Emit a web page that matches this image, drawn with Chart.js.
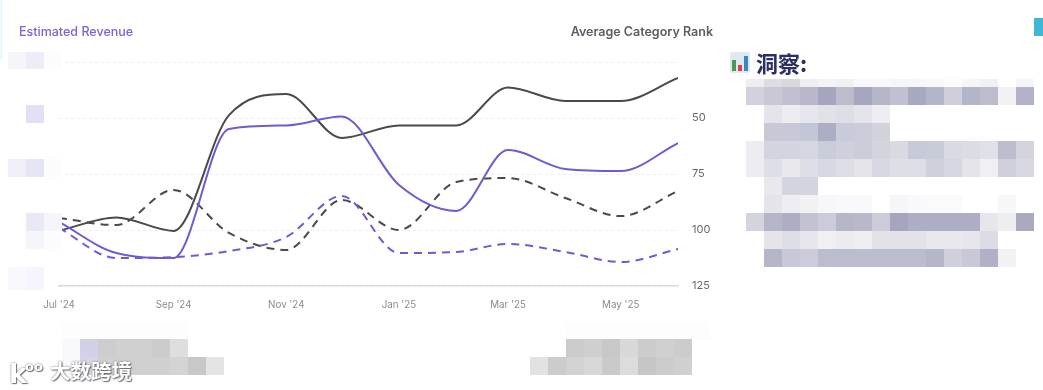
<!DOCTYPE html>
<html>
<head>
<meta charset="utf-8">
<title>Estimated Revenue / Average Category Rank</title>
<script src="https://cdn.jsdelivr.net/npm/chart.js@4"></script>
<style>
  html, body { margin: 0; padding: 0; background: #fff; }
  body { width: 1043px; height: 390px; overflow: hidden; position: relative; font-family: Inter, "Noto Sans CJK SC", sans-serif; }
  #chartBox { position: absolute; left: 0; top: 0; width: 740px; height: 320px; }
  .abs { position: absolute; }
  .axisTitle { position: absolute; top: 24px; font-size: 12.5px; font-weight: 600; line-height: 16px; white-space: nowrap; }
  #leftTitle { left: 19px; color: #7068d8; font-weight: 500; }
  #rightTitle { right: 330px; color: #5c5c66; }
  #insight { position: absolute; left: 756px; top: 46px; font: 700 22px/32px "Noto Sans CJK SC", sans-serif; color: #2a2d66; }
  #mark { position: absolute; left: 50px; top: 355px; z-index: 5; font: 700 20.5px/30px "Noto Sans CJK SC", sans-serif; color: #fff;
          text-shadow: 0 0 2px #666, 1px 1px 1px #777; white-space: nowrap; }
  #logo { position: absolute; left: 9px; top: 350px; z-index: 5; font: 700 27px/34px "DejaVu Sans", sans-serif; color: #fff;
          text-shadow: 0 0 2px #666, 1px 1px 1px #777; white-space: nowrap; }
  #logo span { font-size: 13px; vertical-align: 12px; margin-left: -2px; }
</style>
</head>
<body>
<div id="chartBox"><canvas id="chart"></canvas></div>
<div class="axisTitle" id="leftTitle">Estimated Revenue</div>
<div class="axisTitle" id="rightTitle">Average Category Rank</div>
<div id="insight">洞察:</div>
<div id="logo">k<span>oo</span></div>
<div id="mark">大数跨境</div>

<script>
// months on the time axis
const months = ["2024-07-01","2024-08-01","2024-09-01","2024-10-01","2024-11-01","2024-12-01",
                "2025-01-01","2025-02-01","2025-03-01","2025-04-01","2025-05-01","2025-06-01"];
const tickMonths = ["2024-07-01","2024-09-01","2024-11-01","2025-01-01","2025-03-01","2025-05-01"];
const tickLabels = ["Jul '24","Sep '24","Nov '24","Jan '25","Mar '25","May '25"];

// left axis numbers are blurred in the source, so revenue is in relative units
const revenueA = [28.6, 14.7, 12.5, 70.1, 71.7, 75.7, 45.1, 33.5, 60.7, 52.2, 51.3, 63.8];
const revenueB = [25.9, 12.5, 12.9, 15.6, 21.9, 40.2, 14.7, 15.2, 18.8, 15.2, 10.7, 16.5];
const rankA = [100.4, 94.4, 100.4, 48.7, 39.3, 58.9, 53.3, 53.3, 36.4, 42.4, 42.4, 32.1];
const rankB = [94.6, 97.8, 82.1, 101.3, 108.9, 86.6, 100, 78.6, 76.8, 85.7, 93.8, 82.6];

const purple = "#6a5dd3";
const dark = "#4a4a4d";

const toPoints = vals => vals.map((v, i) => ({ x: Date.parse(months[i]), y: v }));
const makeLine = (label, vals, color, axis, dash) => ({
  label: label,
  data: toPoints(vals),
  yAxisID: axis,
  borderColor: color,
  borderWidth: 2,
  borderDash: dash,
  cubicInterpolationMode: "monotone",
  pointRadius: 0,
  fill: false
});

new Chart(document.getElementById("chart"), {
  type: "line",
  data: {
    datasets: [
      makeLine("Revenue A", revenueA, purple, "revenue", []),
      makeLine("Revenue B", revenueB, purple, "revenue", [8, 6]),
      makeLine("Rank A", rankA, dark, "rank", []),
      makeLine("Rank B", rankB, dark, "rank", [8, 6])
    ]
  },
  options: {
    responsive: true,
    maintainAspectRatio: false,
    animation: false,
    layout: { padding: { top: 62, left: 0, right: 0, bottom: 0 } },
    plugins: { legend: { display: false }, tooltip: { enabled: false } },
    scales: {
      x: {
        type: "linear",
        min: Date.parse(months[0]),
        max: Date.parse(months[months.length - 1]),
        afterBuildTicks: axis => { axis.ticks = tickMonths.map(m => ({ value: Date.parse(m) })); },
        afterFit: axis => { axis.height = 34; },
        grid: { display: false, drawTicks: false },
        border: { display: true, color: "#dcdcdc", width: 1.5 },
        ticks: {
          autoSkip: false,
          maxRotation: 0,
          padding: 13,
          color: "#8c8c8c",
          font: { family: "Inter", size: 9.8 },
          callback: value => tickLabels[tickMonths.findIndex(m => Date.parse(m) === value)]
        }
      },
      revenue: {
        position: "left",
        min: 0,
        max: 100,
        afterFit: axis => { axis.width = 59; },
        grid: { display: false },
        border: { display: false },
        ticks: { display: false, stepSize: 25 }
      },
      rank: {
        position: "right",
        reverse: true,
        min: 25,
        max: 125,
        afterFit: axis => { axis.width = 62; },
        grid: { color: "#eeeeee", drawTicks: false, lineWidth: 1 },
        border: { display: false, dash: [3, 3] },
        ticks: {
          stepSize: 25,
          padding: 14,
          color: "#666666",
          font: { family: "Inter", size: 11 },
          callback: value => value === 25 ? "" : value
        }
      }
    }
  }
});

// blurred blocks from the source picture: [left, top, height, colours...]
const CELL = 18;
const blurRows = [
  // insight panel
  [746, 79, 8, "eeeef1","dddde3","d8d8dd","eeeef1","f4f4f6","f0f0f3","f8f8fa","f8f8fa","f5f5f7","f6f6f8","f8f8fa","fcfcfd","f6f6f8","f1f1f4","ffffff","f6f6f8"],
  [746, 87, 18, "d2d2de","c9c9d6","c0c0d2","b8b8ca","a5a5bf","bcbccd","a6a6bf","b6b6c9","c0c0d0","a6a9c0","b5b5c9","cfcfdc","b5b5ca","bcbccd","f2f2f5","b2b2c8"],
  [764, 105, 18, "e4e4ea","ededf1","e6e6ec","e1e1e8","dedee6","e4e4ea","eeeef2"],
  [764, 123, 18, "c8c8d6","c8c8d6","c2c6d6","adadc5","c8ccd9","ccccd9","d2d2dc"],
  [746, 141, 18, "ededf1","d4d4df","d4d4df","d6d6e0","c8ccdb","d0d0dc","ccccd9","d4d4df","d9d9e2","c6cad9","c8ccd9","dadae3","dcdce5","e0e0e8","bcbccf","d4d4df"],
  [746, 159, 18, "ededf1","dedee6","e8e8ed","dedee6","d6d8e2","dedee6","e4e4ea","d8d8e2","dedee6","dedee6","d0d0dc","d6d6e0","e4e4ea","f0f0f3","d0d0dc","d8d8e2"],
  [764, 177, 18, "e8e8ed","d4d4df","d4d4df"],
  [764, 195, 18, "e4e4ea","eeeef2","f2f2f5","f7f7f9","f9f9fb","f9f9fb","ffffff","f6f6f8","f9f9fb","fafafb","fafafb","ffffff","ffffff","f7f7f9"],
  [746, 213, 18, "d4d4df","b6b6c9","adadc5","c2c2d2","cbcbd9","b6b6c9","b8b8ca","cbcbd9","a5a5bf","adadc5","adadc3","adadc3","adadc3","e6e6ec","eeeef2","a9a9c0"],
  [764, 231, 18, "e4e4ea","dedee6","e6e6ec","f0f0f3","ececf0","efeff2","e2e2e8","e2e2e8","e2e2e8","e8e8ed","e8e8ed","e6e6ec","dcdce4"],
  [764, 249, 18, "b6b6c9","c8c8d6","cbcbd9","bcbccf","bcbccf","bcbccf","bcbccf","bcbccf","bcbccf","b6b6c9","d0d0dc","c8c8d6","b0b0c6","f2f2f5"],
  // left axis labels
  [8, 52, 17, "f6f5fc","eeecf9","fcfcfc"],
  [26, 105, 18, "e2e0f5"],
  [8, 159, 18, "f0eff9","e6e5f5","fcfcfc"],
  [26, 213, 18, "e8e8f7","f5f5fa"],
  [26, 231, 18, "f5f5fc","fcfcfc"],
  [8, 267, 23, "f9f8fd","f6f4fc"],
  // bottom captions
  [62, 339, 18, "f8f8fd","d0d0e6","cdcdcd","d0d0d0","d0d0d0","cccccc","dedede"],
  [62, 357, 18, "f8f8fd","d8d4e6","d0d0d0","d0d0d0","d0d0d0","d0d0d0","d4d4d4","c8c8c8","e4e4e4"],
  [62, 322, 17, "fdfdfd","fdfdfd","fdfdfd","fdfdfd","fdfdfd","fdfdfd","fdfdfd"],
  [566, 339, 18, "cccccc","cfcfd2","c8c8c8","d8d8d8","cccccc","d0d0d0","cccccc"],
  [530, 357, 18, "e2e2e2","cccccc","d2d2d2","d8d8d8","cacaca","dcdcdc","c6c6c6","cccccc","d0d0d0"],
  [566, 322, 17, "fdfdfd","fdfdfd","fdfdfd","fdfdfd","fdfdfd","fdfdfd","fdfdfd","fdfdfd"]
];

function addBox(left, top, width, height, color, radius) {
  const el = document.createElement("div");
  el.className = "abs";
  el.style.cssText = `left:${left}px;top:${top}px;width:${width}px;height:${height}px;background:${color};` +
    (radius ? `border-radius:${radius}px;` : "");
  document.body.appendChild(el);
  return el;
}

blurRows.forEach(row => {
  const [left, top, height, ...colors] = row;
  colors.forEach((c, i) => addBox(left + i * CELL, top, CELL, height, "#" + c));
});

// corner marks
addBox(1034, 18, 9, 18, "#3fb8d6");
addBox(0, 0, 3, 60, "#eefbfc");

// little bar chart icon next to the heading
addBox(730, 52, 20, 21, "#dfe9f2", 2);
addBox(732, 60, 4, 11, "#4b9a50");
addBox(738, 65, 4, 6, "#e0413f");
addBox(744, 56, 4, 15, "#3b86c9");
</script>
</body>
</html>
